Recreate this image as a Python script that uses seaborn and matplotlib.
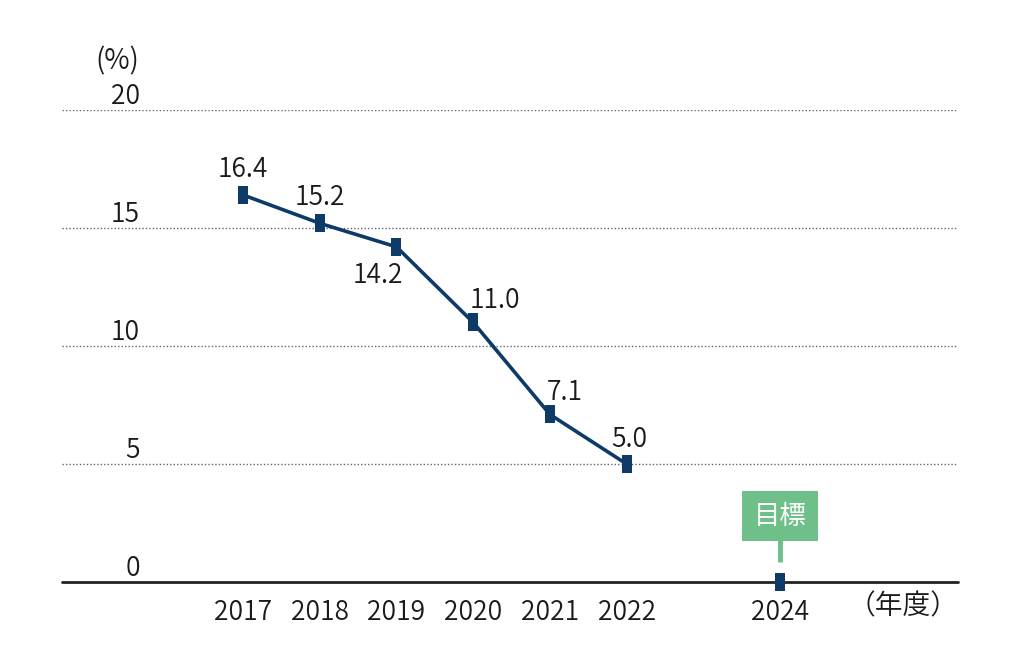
import matplotlib
matplotlib.use("Agg")
import matplotlib.pyplot as plt
import seaborn as sns
import pandas as pd

years = [2017, 2018, 2019, 2020, 2021, 2022]
values = [16.4, 15.2, 14.2, 11.0, 7.1, 5.0]
value_labels = ["16.4", "15.2", "14.2", "11.0", "7.1", "5.0"]
target_year = [2024]
target_value = [0.0]
target_label = "目標"
x_ticks = [2017, 2018, 2019, 2020, 2021, 2022, 2024]
y_ticks = [0, 5, 10, 15, 20]
y_unit = "(%)"
x_unit = "（年度）"

sns.set_theme(style="white")
FONT = ["Noto Sans CJK JP", "DejaVu Sans"]
plt.rcParams["font.family"] = FONT
plt.rcParams["font.weight"] = 350

NAVY = "#0e3a68"
GREEN = "#6fbf89"
TXT = "#1a1a1a"

fig = plt.figure(figsize=(10.25, 6.54), dpi=100)
ax = fig.add_axes([62 / 1025, 72 / 654, 896 / 1025, 472 / 654])

df = pd.DataFrame({"year": years, "value": values})
dft = pd.DataFrame({"year": target_year, "value": target_value})

rect = [(-0.6, -1.0), (0.6, -1.0), (0.6, 1.0), (-0.6, 1.0), (-0.6, -1.0)]

sns.lineplot(data=df, x="year", y="value", ax=ax, color=NAVY, linewidth=2.6,
             marker=rect, markersize=13, markeredgewidth=0, markerfacecolor=NAVY,
             zorder=5)
sns.scatterplot(data=dft, x="year", y="value", ax=ax, color=NAVY, marker=rect,
                s=150, linewidth=0, zorder=6, clip_on=False)

ax.set_xlim(2014.64, 2026.32)
ax.set_ylim(0, 20)

# gridlines
for yv in y_ticks[1:]:
    ax.axhline(yv, color="#666666", linewidth=1.0, linestyle=(0, (1, 1.5)), zorder=1)
ax.axhline(0, color="#222222", linewidth=2.0, zorder=4, clip_on=False)

for s in ax.spines.values():
    s.set_visible(False)
ax.set_xticks(x_ticks)
ax.set_xticklabels([str(t) for t in x_ticks])
ax.tick_params(axis="x", length=0, pad=12, labelsize=19, labelcolor=TXT)
ax.set_yticks([])
ax.set_xlabel("")
ax.set_ylabel("")

# y tick labels above gridlines
for yv in y_ticks:
    ax.annotate(str(yv), xy=(140 / 1025, yv), xycoords=("figure fraction", "data"),
                xytext=(0, 0), textcoords="offset pixels", ha="right", va="bottom",
                fontsize=19, color=TXT)
fig.text(139 / 1025, 1 - 61 / 654, y_unit, ha="right", va="center", fontsize=20,
         color=TXT)
fig.text(903 / 1025, 1 - 606 / 654, x_unit, ha="center", va="center", fontsize=20,
         color=TXT)

# value labels
offsets = [(0, 12, "bottom"), (0, 12, "bottom"), (-19, -15, "top"),
           (22, 8, "bottom"), (15, 8, "bottom"), (3, 11, "bottom")]
for x, y, lab, (dx, dy, va) in zip(years, values, value_labels, offsets):
    ax.annotate(lab, xy=(x, y), xytext=(dx, dy), textcoords="offset pixels",
                ha="center", va=va, fontsize=19, color=TXT)

# target callout
ax.annotate(target_label, xy=(target_year[0], target_value[0]), xytext=(0, 66),
            textcoords="offset pixels", ha="center", va="center", fontsize=19,
            color="white", fontweight="normal",
            bbox=dict(boxstyle="square,pad=0.45", fc=GREEN, ec="none"))
ax.plot([target_year[0], target_year[0]], [0.85, 1.8], color=GREEN, linewidth=3.5,
        zorder=3, solid_capstyle="butt")

fig.savefig("out.png", dpi=100)
